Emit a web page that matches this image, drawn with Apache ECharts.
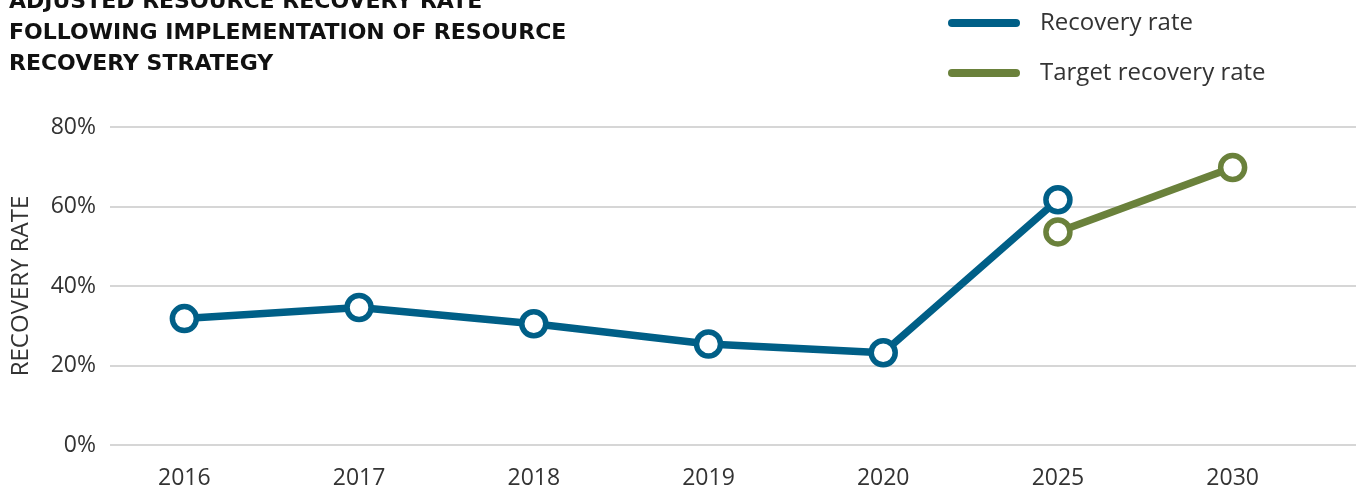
<!DOCTYPE html>
<html>
<head>
<meta charset="utf-8">
<script src="https://cdn.jsdelivr.net/npm/echarts@6/dist/echarts.min.js"></script>
<style>
  html, body { margin: 0; padding: 0; background: #ffffff; }
  #chart { width: 1356px; height: 485px; }
</style>
</head>
<body>
<div id="chart"></div>
<script>
// Years shown along the horizontal axis
const years = ['2016', '2017', '2018', '2019', '2020', '2025', '2030'];
// Measured recovery rate (%)
const recoveryRate = [31.8, 34.6, 30.5, 25.4, 23.2, 61.7, null];
// Target recovery rate (%)
const targetRate = [null, null, null, null, null, 53.6, 69.8];
// Value-axis ticks (%)
const yTicks = [0, 20, 40, 60, 80];

const BLUE = '#005f87';
const GREEN = '#6a813b';
const TEXT = '#333333';
const BODY_FONT = '"Open Sans", Lato, sans-serif';

const chart = echarts.init(document.getElementById('chart'), null, { renderer: 'canvas' });

const pill = 'path://M4,0H68A4,4,0,0,1,68,8H4A4,4,0,0,1,4,0Z';

function lineSeries(name, data, color) {
  return {
    name: name,
    type: 'line',
    xAxisIndex: 0,
    yAxisIndex: 0,
    data: data,
    symbol: 'circle',
    symbolSize: 24,
    showAllSymbol: true,
    connectNulls: false,
    lineStyle: { color: color, width: 7.5 },
    itemStyle: { color: '#ffffff', borderColor: color, borderWidth: 5.5 },
    emphasis: { disabled: true },
    animation: false,
    z: 3
  };
}

chart.setOption({
  backgroundColor: '#ffffff',
  animation: false,
  title: {
    text: 'ADJUSTED RESOURCE RECOVERY RATE\nFOLLOWING IMPLEMENTATION OF RESOURCE\nRECOVERY STRATEGY',
    left: 9,
    top: -13,
    padding: 0,
    textStyle: {
      fontFamily: '"DejaVu Sans", "Liberation Sans", sans-serif',
      fontWeight: 'bold',
      fontSize: 22,
      lineHeight: 31,
      color: '#111111'
    }
  },
  legend: {
    orient: 'vertical',
    left: 948,
    top: 8,
    padding: 0,
    itemWidth: 72,
    itemHeight: 8,
    itemGap: 20,
    icon: pill,
    selectedMode: false,
    textStyle: {
      fontFamily: BODY_FONT,
      fontSize: 24,
      lineHeight: 30,
      color: TEXT,
      padding: [0, 0, 0, 15]
    },
    data: [
      { name: 'Recovery rate', itemStyle: { color: BLUE, borderWidth: 0 } },
      { name: 'Target recovery rate', itemStyle: { color: GREEN, borderWidth: 0 } }
    ]
  },
  grid: [
    // data grid: category bands centred on each year
    { left: 97, right: 36, top: 127, bottom: 40, containLabel: false, outerBoundsMode: 'none' },
    // frame grid carrying the gridlines and value labels
    { left: 110, right: 0, top: 127, bottom: 40, containLabel: false, outerBoundsMode: 'none' }
  ],
  xAxis: [
    {
      type: 'category',
      gridIndex: 0,
      data: years,
      boundaryGap: true,
      axisLine: { show: false },
      axisTick: { show: false },
      axisLabel: {
        margin: 22,
        fontFamily: BODY_FONT,
        fontSize: 23,
        color: TEXT
      }
    },
    {
      type: 'value',
      gridIndex: 1,
      show: false,
      min: 0,
      max: 1
    }
  ],
  yAxis: [
    {
      type: 'value',
      gridIndex: 0,
      min: yTicks[0],
      max: yTicks[yTicks.length - 1],
      interval: 20,
      show: false
    },
    {
      type: 'value',
      gridIndex: 1,
      min: yTicks[0],
      max: yTicks[yTicks.length - 1],
      interval: 20,
      name: 'RECOVERY RATE',
      nameLocation: 'middle',
      nameRotate: 90,
      nameGap: 77,
      nameTextStyle: {
        fontFamily: BODY_FONT,
        fontSize: 24,
        color: TEXT
      },
      axisLine: { show: false },
      axisTick: { show: false },
      axisLabel: {
        margin: 14,
        fontFamily: BODY_FONT,
        fontSize: 23,
        color: TEXT,
        formatter: v => v + '%'
      },
      splitLine: { lineStyle: { color: '#c8c8c8', width: 1.5 } }
    }
  ],
  series: [
    lineSeries('Recovery rate', recoveryRate, BLUE),
    lineSeries('Target recovery rate', targetRate, GREEN)
  ]
});
</script>
</body>
</html>
